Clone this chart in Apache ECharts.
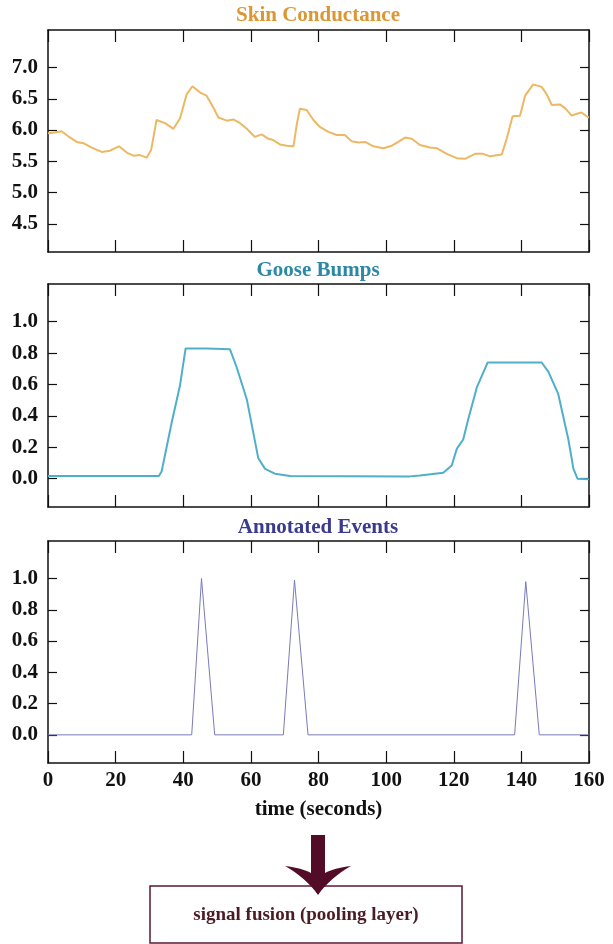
<!DOCTYPE html>
<html><head><meta charset="utf-8">
<script src="https://cdn.jsdelivr.net/npm/echarts@6/dist/echarts.min.js"></script>
<style>html,body{margin:0;padding:0;background:#fff}#c{width:613px;height:944px}</style>
</head><body><div id="c"></div>
<script>
// ---- data ----
const xTickValues = [0, 20, 40, 60, 80, 100, 120, 140, 160];
const scTickValues = [4.5, 5.0, 5.5, 6.0, 6.5, 7.0];
const unitTickValues = [0.0, 0.2, 0.4, 0.6, 0.8, 1.0];

const scTime = [0,2,4,6,8.5,10.5,12.9,15.9,18.3,21,23.3,25.2,27.2,29.2,30.5,32.1,34.6,37.1,39,41,42.7,45,46.9,48.9,50.4,52.9,54.8,56.8,58.8,61.2,63.2,65.2,66.6,68.6,70.6,72.6,73.6,74.5,76.5,78.5,80.4,82.9,85.4,87.8,89.8,91.8,93.8,96.2,99.2,101.7,103.6,105.6,107.6,110,113,115,117.9,120.9,123.3,126.3,128.7,130.7,134.2,135.7,137.4,139.6,141.1,143.5,146,147.5,149,151.4,152.9,154.9,156.4,157.8,159.3,160];
const scValue = [5.95,5.96,5.98,5.9,5.81,5.79,5.72,5.65,5.67,5.74,5.64,5.59,5.6,5.56,5.68,6.16,6.11,6.02,6.18,6.57,6.7,6.6,6.55,6.36,6.2,6.15,6.17,6.11,6.02,5.89,5.93,5.86,5.84,5.77,5.75,5.74,6.1,6.34,6.32,6.16,6.05,5.97,5.92,5.92,5.82,5.8,5.81,5.74,5.71,5.75,5.81,5.88,5.86,5.76,5.72,5.71,5.62,5.55,5.54,5.62,5.62,5.58,5.61,5.87,6.22,6.23,6.55,6.73,6.69,6.57,6.4,6.41,6.35,6.23,6.26,6.28,6.22,6.2];

const gbTime = [0,32.8,33.6,36.6,39,40.7,47,53.8,55.8,58.8,62.2,64.2,67.1,71.6,107,110,116.9,119.4,120.9,122.8,124.3,126.8,130,146,148,150.9,153.9,155.4,156.6,160];
const gbValue = [0.017,0.017,0.046,0.36,0.59,0.83,0.83,0.825,0.71,0.505,0.13,0.063,0.032,0.017,0.015,0.021,0.038,0.084,0.19,0.25,0.38,0.58,0.74,0.74,0.68,0.54,0.25,0.063,0.0,-0.004];

const evTime = [0,42.5,45.4,49.3,69.6,72.9,76.9,138,141.3,145.3,160];
const evValue = [0,0,1.0,0,0,0.99,0,0,0.98,0,0];

const titles = ['Skin Conductance', 'Goose Bumps', 'Annotated Events'];
const xAxisName = 'time (seconds)';
const boxText = 'signal fusion (pooling layer)';

// ---- styling / layout ----
const FONT = '"Liberation Serif", "Times New Roman", serif';
const grids = [
  {left: 48, right: 24, top: 30, height: 222},
  {left: 48, right: 24, top: 284, height: 223},
  {left: 48, right: 24, top: 541, height: 222}
];
const yRanges = [[4.05, 7.6], [-0.18, 1.24], [-0.18, 1.24]];
const yTicks = [scTickValues, unitTickValues, unitTickValues];
const lineColors = ['#EDB863', '#4FAFCB', '#7A7ABA'];
const titleColors = ['#DC9632', '#2B88A7', '#3B3B8E'];
const lineWidths = [2, 2, 1];

const axisLine = {show: true, onZero: false, lineStyle: {color: '#111', width: 1.5}};
const labelStyle = {fontFamily: FONT, fontWeight: 'bold', fontSize: 21, color: '#111'};

const xAxes = [], yAxes = [];
for (let g = 0; g < 3; g++) {
  ['bottom', 'top'].forEach(pos => {
    const ax = {
      type: 'value', gridIndex: g, position: pos, min: 0, max: 160, interval: 20,
      axisLine: axisLine,
      axisTick: {show: true, inside: true, length: 12, lineStyle: {color: '#111', width: 1.2}},
      axisLabel: {show: false},
      splitLine: {show: false}
    };
    if (g === 2 && pos === 'bottom') {
      ax.axisLabel = Object.assign({show: true, margin: 7}, labelStyle);
      ax.name = xAxisName;
      ax.nameLocation = 'middle';
      ax.nameGap = 36;
      ax.nameTextStyle = {fontFamily: FONT, fontWeight: 'bold', fontSize: 21, color: '#111'};
    }
    xAxes.push(ax);
  });
  ['left', 'right'].forEach(pos => {
    const ay = {
      type: 'value', gridIndex: g, position: pos,
      min: yRanges[g][0], max: yRanges[g][1],
      axisLine: axisLine,
      axisTick: {show: true, inside: true, length: 9, customValues: yTicks[g], lineStyle: {color: '#111', width: 1.2}},
      axisLabel: pos === 'left'
        ? Object.assign({show: true, margin: 10, customValues: yTicks[g], formatter: v => Number(v).toFixed(1)}, labelStyle)
        : {show: false},
      splitLine: {show: false}
    };
    yAxes.push(ay);
  });
}

function pairs(t, v) { return t.map((x, i) => [x, v[i]]); }
const seriesData = [pairs(scTime, scValue), pairs(gbTime, gbValue), pairs(evTime, evValue)];

const series = seriesData.map((d, g) => ({
  type: 'line', data: d, xAxisIndex: g * 2, yAxisIndex: g * 2,
  showSymbol: false, symbol: 'none', smooth: false,
  lineStyle: {color: lineColors[g], width: lineWidths[g]},
  z: 3
}));

// arrow outline (decoration): straight shaft + swept head built from quadratic curves
function quad(p0, c, p1, n) {
  const out = [];
  for (let i = 1; i <= n; i++) {
    const t = i / n, u = 1 - t;
    out.push([u*u*p0[0] + 2*u*t*c[0] + t*t*p1[0], u*u*p0[1] + 2*u*t*c[1] + t*t*p1[1]]);
  }
  return out;
}
let arrowPts = [[311, 835], [325, 835], [325, 873]];
arrowPts = arrowPts.concat(quad([325, 873], [334, 868], [351, 866], 8));
arrowPts = arrowPts.concat(quad([351, 866], [330, 878], [318, 895], 8));
arrowPts = arrowPts.concat(quad([318, 895], [306, 878], [285, 866], 8));
arrowPts = arrowPts.concat(quad([285, 866], [302, 868], [311, 873], 8));

const titleY = [16, 271, 528];
const graphics = titles.map((t, g) => ({
  type: 'text', x: 318, y: titleY[g],
  style: {text: t, fill: titleColors[g], font: 'bold 21px ' + FONT, align: 'center', verticalAlign: 'middle'}
}));
graphics.push({
  type: 'rect', shape: {x: 150, y: 886, width: 312, height: 57},
  style: {fill: '#fff', stroke: '#5a1a2e', lineWidth: 1.5}, z: 1
});
graphics.push({
  type: 'polygon', shape: {points: arrowPts},
  style: {fill: '#520c28'}, z: 2
});
graphics.push({
  type: 'text', x: 306, y: 915,
  style: {text: boxText, fill: '#4a1c24', font: 'bold 19px ' + FONT, align: 'center', verticalAlign: 'middle'}, z: 3
});

const chart = echarts.init(document.getElementById('c'), null, {renderer: 'canvas'});
chart.setOption({
  animation: false,
  backgroundColor: '#fff',
  grid: grids,
  xAxis: xAxes,
  yAxis: yAxes,
  series: series,
  graphic: graphics
});
</script>
</body></html>
